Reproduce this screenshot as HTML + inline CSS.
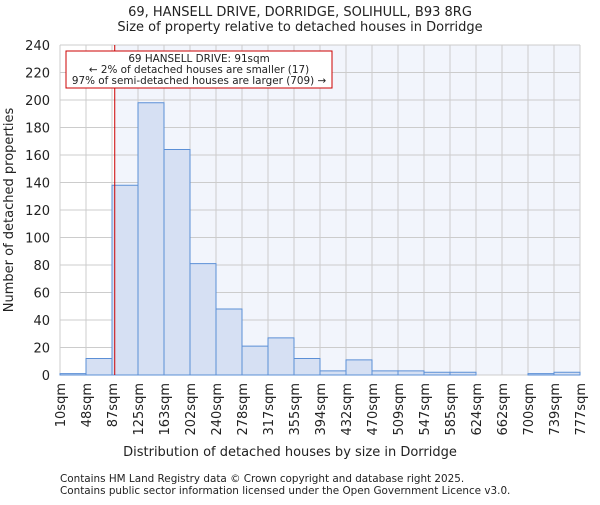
<!DOCTYPE html>
<html><head><meta charset="utf-8"><style>
body{margin:0;background:#fff;}
svg text{font-family:"DejaVu Sans","Liberation Sans",sans-serif;fill:#222;}
</style></head><body>
<svg id="chart" width="600" height="500" xmlns="http://www.w3.org/2000/svg">
<text x="300" y="16" text-anchor="middle" font-size="13">69, HANSELL DRIVE, DORRIDGE, SOLIHULL, B93 8RG</text>
<text x="300" y="31" text-anchor="middle" font-size="13">Size of property relative to detached houses in Dorridge</text>
<g id="plot"></g>
<text x="290" y="456" text-anchor="middle" font-size="13">Distribution of detached houses by size in Dorridge</text>
<text transform="translate(13,210) rotate(-90)" text-anchor="middle" font-size="13">Number of detached properties</text>
<text x="60" y="482" font-size="10.4" fill="#444">Contains HM Land Registry data © Crown copyright and database right 2025.</text>
<text x="60" y="494" font-size="10.4" fill="#444">Contains public sector information licensed under the Open Government Licence v3.0.</text>
</svg>
<script>
const binEdges=[10,48,87,125,163,202,240,278,317,355,394,432,470,509,547,585,624,662,700,739,777];
const counts=[1,12,138,198,164,81,48,21,27,12,3,11,3,3,2,2,0,0,1,2];
const yTicks=[0,20,40,60,80,100,120,140,160,180,200,220,240];
const propertySize=91;
const X0=60,X1=580,Y0=375,Y1=45,YMAX=240;
const NS="http://www.w3.org/2000/svg";
const g=document.getElementById('plot');
const nb=counts.length;
function xIdx(i){return X0+(X1-X0)*i/nb;}
function xVal(v){let i=0;while(i<nb-1&&v>binEdges[i+1])i++;return xIdx(i)+(v-binEdges[i])/(binEdges[i+1]-binEdges[i])*(X1-X0)/nb;}
function y(v){return Y0-(Y0-Y1)*v/YMAX;}
function mk(t,a){const e=document.createElementNS(NS,t);for(const k in a)e.setAttribute(k,a[k]);g.appendChild(e);return e;}
const px=xVal(propertySize);
let r=mk('rect',{x:X0,y:Y1,width:X1-X0,height:Y0-Y1,fill:'#fff'});


r=mk('rect',{x:px,y:Y1,width:X1-px,height:Y0-Y1,fill:'#f2f5fc'});


yTicks.forEach(t=>{
 const l=mk('line',{x1:X0,x2:X1,y1:y(t),y2:y(t),stroke:'#ccc','stroke-width':1});
 
 
 const tx=mk('text',{x:X0-10,y:y(t)+5,'text-anchor':'end','font-size':13});
 tx.textContent=t;
 
 
});
binEdges.forEach((b,i)=>{
 const xx=xIdx(i);
 const l=mk('line',{x1:xx,x2:xx,y1:Y1,y2:Y0,stroke:'#ccc','stroke-width':1});
 
 
 const tx=mk('text',{transform:`translate(${xx+5},${Y0+8}) rotate(-90)`,'text-anchor':'end','font-size':13});
 tx.textContent=b+'sqm';
 
 
});
counts.forEach((c,i)=>{
 const b=mk('rect',{x:xIdx(i),y:y(c),width:(X1-X0)/nb,height:Y0-y(c),fill:'#d6e0f3',stroke:'#5b8fd6','stroke-width':1});
 
 
});
const ln=mk('line',{x1:px,x2:px,y1:Y1,y2:Y0,stroke:'#cc0000','stroke-width':1});


const box=mk('rect',{x:66,y:51,width:266,height:37,fill:'#fff',stroke:'#cc0000','stroke-width':1});


["69 HANSELL DRIVE: 91sqm","← 2% of detached houses are smaller (17)","97% of semi-detached houses are larger (709) →"].forEach((s,i)=>{
 const t=mk('text',{x:199,y:62+i*11,'text-anchor':'middle','font-size':10.4});
 t.textContent=s;
 
 
});
</script>
</body></html>
